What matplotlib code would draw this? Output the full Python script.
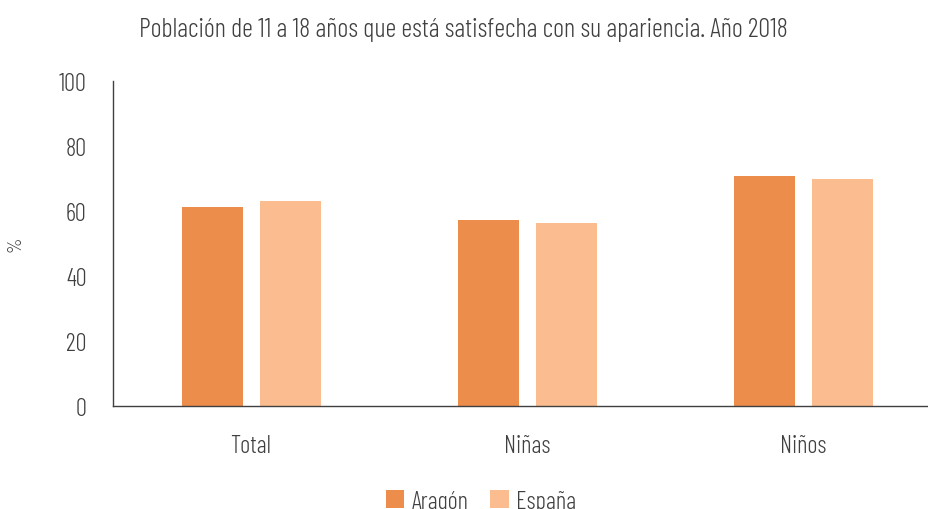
import numpy as np
import matplotlib.pyplot as plt
from matplotlib import font_manager

# datos
categorias = ['Total', 'Niñas', 'Niños']
aragon = [61.3, 57.1, 70.9]
espana = [63.1, 56.3, 69.8]
series = ['Aragón', 'España']
titulo = 'Población de 11 a 18 años que está satisfecha con su apariencia. Año 2018'

# fuente estrecha parecida a la del original
nombres = {f.name for f in font_manager.fontManager.ttflist}
preferidas = ['Barlow Condensed', 'Asap Condensed', 'Archivo Narrow',
              'Roboto Condensed', 'Liberation Sans Narrow', 'DejaVu Sans']
fuente = next(f for f in preferidas if f in nombres)
plt.rcParams['font.family'] = [fuente, 'DejaVu Sans']
plt.rcParams['font.weight'] = 300

gris = '#404040'
col_ar = '#ED8D4C'
col_es = '#FBBD8F'

fig = plt.figure(figsize=(9.29, 5.10), dpi=100)
# el eje x se sale por la derecha como en el original
ax = fig.add_axes([113/929, 1 - 407/510, 828/929, (407-82)/510])

# ajustar tamaño de letra al ancho del título (647 px)
t = fig.text(463/929, 1 - 30/510, titulo, fontsize=20, color=gris, ha='center', va='center')
fig.canvas.draw()
ancho_t = t.get_window_extent().width
esc = 647 / ancho_t
fs_tit = 20 * esc
t.set_fontsize(fs_tit)
fs = fs_tit * 0.93

x = np.arange(len(categorias))
ancho = 0.221
ax.bar(x - 0.141, aragon, ancho, color=col_ar, label=series[0])
ax.bar(x + 0.143, espana, ancho, color=col_es, label=series[1])

ax.set_xlim(-0.5, 2.5)
ax.set_ylim(0, 100)
ax.set_yticks(range(0, 101, 20))
ax.set_xticks(x)
ax.set_xticklabels(categorias)
ax.tick_params(axis='both', length=0, labelsize=fs, colors=gris)
ax.tick_params(axis='x', pad=20)
ax.tick_params(axis='y', pad=19)
for s in ['top', 'right']:
    ax.spines[s].set_visible(False)
for s in ['left', 'bottom']:
    ax.spines[s].set_color(gris)
    ax.spines[s].set_linewidth(1)

fig.text(16/929, 1 - 244/510, '%', fontsize=fs * 0.8, color=gris, rotation=90,
         ha='center', va='center')

fig.legend(loc='center', bbox_to_anchor=(481/929, 1 - 502/510), ncol=2, frameon=False,
           fontsize=fs, labelcolor=gris, handlelength=0.75, handleheight=0.75,
           columnspacing=0.9, handletextpad=0.3)

fig.savefig('out.png', dpi=100)
